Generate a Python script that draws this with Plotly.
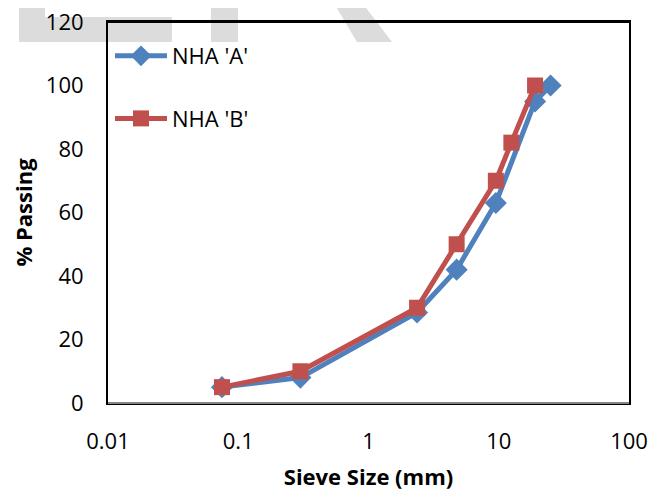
import plotly.graph_objects as go

# Data
sieve_a = [0.075, 0.3, 2.36, 4.75, 9.5, 19, 25]
passing_a = [5, 8, 28.5, 42, 63, 95, 100]
sieve_b = [0.075, 0.3, 2.36, 4.75, 9.5, 12.5, 19]
passing_b = [5, 10, 30, 50, 70, 82, 100]
x_ticks = [0.01, 0.1, 1, 10, 100]
x_tick_labels = ["0.01", "0.1", "1", "10", "100"]
y_ticks = [0, 20, 40, 60, 80, 100, 120]

OFF = 8  # page body offset
W, H = 662 - OFF, 491 - OFF
# plot area as seen on screen
L, R, T, B = 108, 629, 22, 403
FONT = "Open Sans"


def px(x):
    return (x - L) / (R - L)


def py(y):
    return (B - y) / (B - T)


fig = go.Figure()
fig.add_trace(go.Scatter(
    x=sieve_a, y=passing_a, name="NHA 'A'", mode="lines+markers",
    line=dict(color="#4F81BD", width=5),
    marker=dict(symbol="diamond", size=17, color="#4F81BD"),
    legendgroup="a",
))
fig.add_trace(go.Scatter(
    x=sieve_b, y=passing_b, name="NHA 'B'", mode="lines+markers",
    line=dict(color="#C0504D", width=5),
    marker=dict(symbol="square", size=16, color="#C0504D"),
    legendgroup="b",
))

gray = "#DCDCDC"
shapes = [
    dict(type="rect", xref="paper", yref="paper", x0=px(19), x1=px(45), y0=py(0), y1=py(17),
         fillcolor=gray, line_width=0, layer="below"),
    dict(type="rect", xref="paper", yref="paper", x0=px(19), x1=px(172), y0=py(17), y1=py(42),
         fillcolor=gray, line_width=0, layer="below"),
    dict(type="rect", xref="paper", yref="paper", x0=px(211), x1=px(238), y0=py(0), y1=py(42),
         fillcolor=gray, line_width=0, layer="below"),
    dict(type="path", xref="paper", yref="paper",
         path=f"M{px(332)},{py(0)} L{px(360)},{py(0)} L{px(392)},{py(42)} L{px(357)},{py(42)} Z",
         fillcolor=gray, line_width=0, layer="below"),
    # bottom axis line in gray over the black frame
    dict(type="line", xref="paper", yref="paper", x0=0, x1=1, y0=0, y1=0,
         line=dict(color="#868686", width=2), layer="above"),
    # top frame line
    dict(type="line", xref="paper", yref="paper", x0=0, x1=1, y0=1, y1=1,
         line=dict(color="black", width=2), layer="above"),
]

fig.update_layout(
    width=W, height=H,
    margin=dict(l=L - OFF, r=W - (R - OFF), t=T - OFF, b=H - (B - OFF)),
    paper_bgcolor="white",
    plot_bgcolor="rgba(0,0,0,0)",
    font=dict(family=FONT, size=22, color="black"),
    shapes=shapes,
    showlegend=True,
    legend=dict(
        x=px(110), y=py(35), xanchor="left", yanchor="top",
        bgcolor="rgba(0,0,0,0)", font=dict(size=22, family=FONT),
        tracegroupgap=31, itemwidth=52,
    ),
    xaxis=dict(
        type="log", range=[-2, 2], tickvals=x_ticks, ticktext=x_tick_labels,
        showgrid=False, zeroline=False, showline=True, linecolor="black", linewidth=2,
        mirror=True,
        ticks="", ticklabelstandoff=18, automargin=False, ticklabeloverflow="allow",
        title=dict(text="<b>Sieve Size (mm)</b>", font=dict(size=22, family=FONT), standoff=20),
    ),
    yaxis=dict(
        range=[0, 120], tickvals=y_ticks,
        showgrid=False, zeroline=False, showline=True, linecolor="black", linewidth=2,
        mirror=True,
        ticks="", ticklabelstandoff=18, automargin=False, ticklabeloverflow="allow",
        title=dict(text="<b>% Passing</b>", font=dict(size=22, family=FONT), standoff=14),
    ),
)

fig.write_html("out.html")
